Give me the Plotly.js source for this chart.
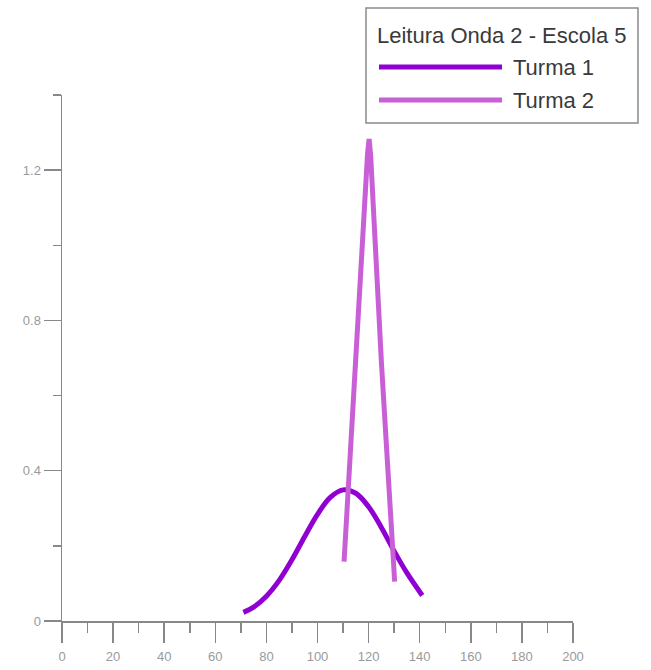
<!DOCTYPE html>
<html>
<head>
<meta charset="utf-8">
<script src="https://cdn.plot.ly/plotly-3.0.1.min.js"></script>
<style>html,body{margin:0;padding:0;background:#fff;}#chart{width:651px;height:670px;}</style>
</head>
<body>
<div id="chart"></div>
<script>
// ---- data ----
const legendTitle = "Leitura Onda 2 - Escola 5";
const seriesNames = ["Turma 1", "Turma 2"];
const seriesColors = ["#9000D2", "#C95FD6"];

const turma1X = [71, 75, 80, 85, 90, 95, 100, 105, 110, 115, 120, 125, 130, 135, 141];
const turma1Y = [0.023, 0.037, 0.066, 0.108, 0.163, 0.225, 0.284, 0.329, 0.349, 0.340, 0.304, 0.249, 0.186, 0.128, 0.068];

const turma2X = [110.4, 115, 119.6, 120.2, 120.8, 125, 130.2];
const turma2Y = [0.158, 0.73, 1.245, 1.283, 1.24, 0.69, 0.105];

const xTickVals = [0, 20, 40, 60, 80, 100, 120, 140, 160, 180, 200];
const yTickVals = [0, 0.4, 0.8, 1.2];

// ---- layout geometry ----
const W = 651, H = 670;
const M = {l: 62, r: 78, t: 95, b: 49};
const pw = W - M.l - M.r, ph = H - M.t - M.b;
const px2x = p => (p - M.l) / pw;
const px2y = p => (H - M.b - p) / ph;

const axisColor = "#888888";
const labelFont = {family: "Liberation Sans, Arial, sans-serif", size: 13, color: "#9a9a9a"};
const legFont = {family: "Liberation Sans, Arial, sans-serif", size: 22, color: "#3a3a3a"};

const traces = [
  {x: turma1X, y: turma1Y, name: seriesNames[0], type: "scatter", mode: "lines",
   line: {color: seriesColors[0], width: 5, shape: "spline"}},
  {x: turma2X, y: turma2Y, name: seriesNames[1], type: "scatter", mode: "lines",
   line: {color: seriesColors[1], width: 5}}
];

// custom legend (box, sample lines, labels)
const shapes = [
  {type: "rect", xref: "paper", yref: "paper",
   x0: px2x(366), x1: px2x(638), y0: px2y(123), y1: px2y(8),
   line: {color: "#8a8a8a", width: 1.5}, fillcolor: "#ffffff", layer: "above"}
];
const annotations = [
  {xref: "paper", yref: "paper", x: px2x(375), y: px2y(36), xanchor: "left", yanchor: "middle",
   text: legendTitle, showarrow: false, font: legFont}
];
const rowY = [67, 100];
seriesNames.forEach((n, i) => {
  shapes.push({type: "line", xref: "paper", yref: "paper",
    x0: px2x(379), x1: px2x(502), y0: px2y(rowY[i]), y1: px2y(rowY[i]),
    line: {color: seriesColors[i], width: 5}, layer: "above"});
  annotations.push({xref: "paper", yref: "paper", x: px2x(511), y: px2y(rowY[i]),
    xanchor: "left", yanchor: "middle", text: n, showarrow: false, font: legFont});
});

const layout = {
  width: W, height: H,
  margin: M,
  paper_bgcolor: "#ffffff", plot_bgcolor: "#ffffff",
  showlegend: false,
  xaxis: {
    range: [0, 200], tickvals: xTickVals, ticktext: xTickVals.map(String),
    showgrid: false, zeroline: false, showline: true, linecolor: axisColor, linewidth: 1.5,
    ticks: "outside", ticklen: 20, tickwidth: 1.5, tickcolor: axisColor,
    tickfont: labelFont, ticklabelstandoff: 3,
    minor: {dtick: 10, ticks: "outside", ticklen: 10, tickwidth: 1.5, tickcolor: axisColor, showgrid: false}
  },
  yaxis: {
    range: [0, 1.4], tickvals: yTickVals, ticktext: ["0", "0.4", "0.8", "1.2"],
    showgrid: false, zeroline: false, showline: true, linecolor: axisColor, linewidth: 1.5,
    ticks: "outside", ticklen: 17, tickwidth: 1.5, tickcolor: axisColor,
    tickfont: labelFont,
    minor: {dtick: 0.2, ticks: "outside", ticklen: 8, tickwidth: 1.5, tickcolor: axisColor, showgrid: false}
  },
  shapes: shapes,
  annotations: annotations
};

Plotly.newPlot("chart", traces, layout, {displayModeBar: false, staticPlot: true});
</script>
</body>
</html>
